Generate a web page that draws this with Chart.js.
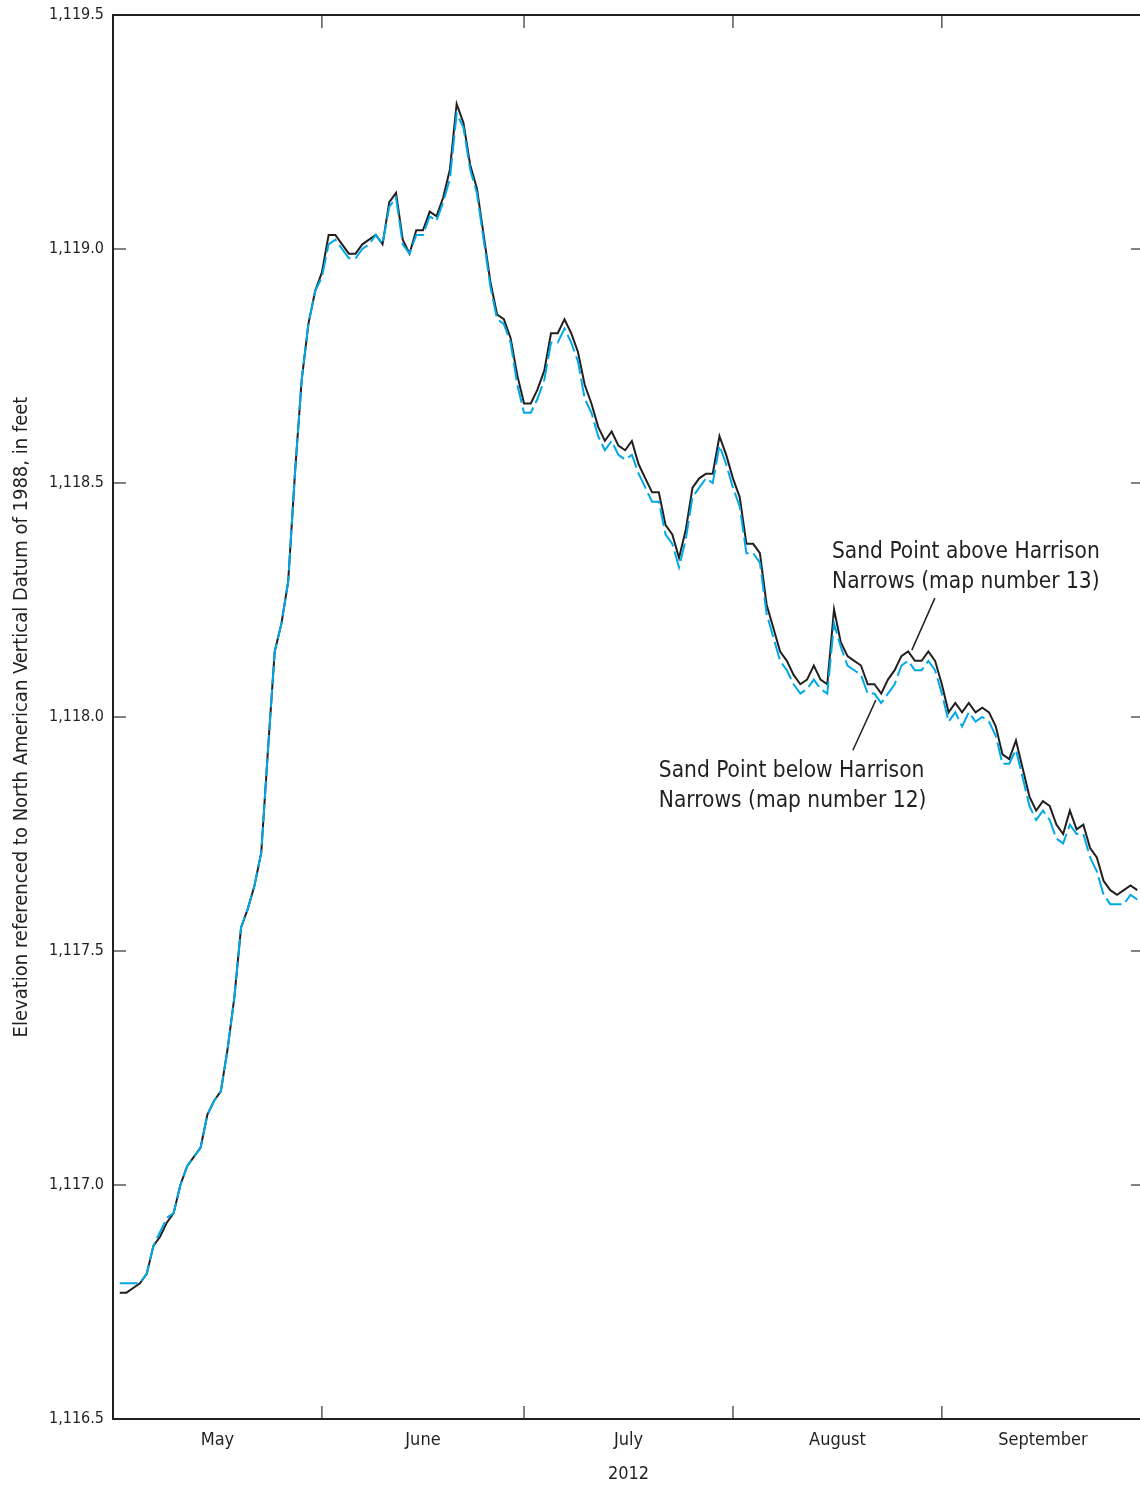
<!DOCTYPE html>
<html lang="en">
<head>
<meta charset="UTF-8">
<title>Lake elevation at Sand Point, May to September 2012</title>
<script src="https://cdn.jsdelivr.net/npm/chart.js"></script>
<style>
  html, body { margin: 0; padding: 0; background: #fff; }
  .janela { width: 1140px; height: 1487px; overflow: hidden; }
</style>
</head>
<body>
<div class="janela">
  <canvas id="elevacao" width="1150" height="1487"></canvas>
</div>
<script>
// daily elevations, ft (NAVD 88), from May 2 to September 30
var acima13 = [
  1116.77, 1116.77, 1116.78, 1116.79, 1116.81, 1116.87, 1116.89, 1116.92, 1116.94, 1117.00,
  1117.04, 1117.06, 1117.08, 1117.15, 1117.18, 1117.20, 1117.29, 1117.40, 1117.55, 1117.59,
  1117.64, 1117.71, 1117.93, 1118.14, 1118.20, 1118.29, 1118.52, 1118.72, 1118.84, 1118.91,
  1118.95, 1119.03, 1119.03, 1119.01, 1118.99, 1118.99, 1119.01, 1119.02, 1119.03, 1119.01,
  1119.10, 1119.12, 1119.02, 1118.99, 1119.04, 1119.04, 1119.08, 1119.07, 1119.11, 1119.17,
  1119.31, 1119.27, 1119.18, 1119.13, 1119.03, 1118.93, 1118.86, 1118.85, 1118.81, 1118.73,
  1118.67, 1118.67, 1118.70, 1118.74, 1118.82, 1118.82, 1118.85, 1118.82, 1118.78, 1118.71,
  1118.67, 1118.62, 1118.59, 1118.61, 1118.58, 1118.57, 1118.59, 1118.54, 1118.51, 1118.48,
  1118.48, 1118.41, 1118.39, 1118.34, 1118.40, 1118.49, 1118.51, 1118.52, 1118.52, 1118.60,
  1118.56, 1118.51, 1118.47, 1118.37, 1118.37, 1118.35, 1118.24, 1118.19, 1118.14, 1118.12,
  1118.09, 1118.07, 1118.08, 1118.11, 1118.08, 1118.07, 1118.23, 1118.16, 1118.13, 1118.12,
  1118.11, 1118.07, 1118.07, 1118.05, 1118.08, 1118.10, 1118.13, 1118.14, 1118.12, 1118.12,
  1118.14, 1118.12, 1118.07, 1118.01, 1118.03, 1118.01, 1118.03, 1118.01, 1118.02, 1118.01,
  1117.98, 1117.92, 1117.91, 1117.95, 1117.89, 1117.83, 1117.80, 1117.82, 1117.81, 1117.77,
  1117.75, 1117.80, 1117.76, 1117.77, 1117.72, 1117.70, 1117.65, 1117.63, 1117.62, 1117.63,
  1117.64, 1117.63
];
var abaixo12 = [
  1116.79, 1116.79, 1116.79, 1116.79, 1116.81, 1116.87, 1116.90, 1116.93, 1116.94, 1117.00,
  1117.04, 1117.06, 1117.08, 1117.15, 1117.18, 1117.20, 1117.29, 1117.40, 1117.55, 1117.59,
  1117.64, 1117.71, 1117.93, 1118.14, 1118.20, 1118.29, 1118.52, 1118.72, 1118.84, 1118.91,
  1118.94, 1119.01, 1119.02, 1119.00, 1118.98, 1118.98, 1119.00, 1119.01, 1119.03, 1119.01,
  1119.09, 1119.11, 1119.01, 1118.99, 1119.03, 1119.03, 1119.07, 1119.06, 1119.10, 1119.15,
  1119.29, 1119.26, 1119.17, 1119.12, 1119.02, 1118.92, 1118.85, 1118.84, 1118.80, 1118.71,
  1118.65, 1118.65, 1118.68, 1118.72, 1118.80, 1118.80, 1118.83, 1118.80, 1118.76, 1118.68,
  1118.65, 1118.60, 1118.57, 1118.59, 1118.56, 1118.55, 1118.56, 1118.52, 1118.49, 1118.46,
  1118.46, 1118.39, 1118.37, 1118.32, 1118.38, 1118.47, 1118.49, 1118.51, 1118.50, 1118.58,
  1118.54, 1118.49, 1118.45, 1118.35, 1118.35, 1118.33, 1118.22, 1118.17, 1118.12, 1118.10,
  1118.07, 1118.05, 1118.06, 1118.08, 1118.06, 1118.05, 1118.20, 1118.15, 1118.11, 1118.10,
  1118.09, 1118.05, 1118.05, 1118.03, 1118.05, 1118.07, 1118.11, 1118.12, 1118.10, 1118.10,
  1118.12, 1118.10, 1118.05, 1117.99, 1118.01, 1117.98, 1118.01, 1117.99, 1118.00, 1117.99,
  1117.96, 1117.90, 1117.90, 1117.93, 1117.87, 1117.81, 1117.78, 1117.80, 1117.78, 1117.74,
  1117.73, 1117.77, 1117.75, 1117.75, 1117.70, 1117.67, 1117.62, 1117.60, 1117.60, 1117.60,
  1117.62, 1117.61
];

// x axis in days counted from May 1
var primeiroDia = 1;
var inicioMeses = [0, 31, 61, 92, 123, 153];
var nomesMeses = ['May', 'June', 'July', 'August', 'September'];
var marcasY = [1116.5, 1117.0, 1117.5, 1118.0, 1118.5, 1119.0, 1119.5];

var rotulos = [
  { linhas: ['Sand Point above Harrison', 'Narrows (map number 13)'], dia: 106.7, valor: 1118.353,
    seta: [121.96, 1118.254, 118.55, 1118.143] },
  { linhas: ['Sand Point below Harrison', 'Narrows (map number 12)'], dia: 81.0, valor: 1117.885,
    seta: [113.2, 1118.036, 109.8, 1117.929] }
];

var fonte = "'Liberation Sans Narrow', 'DejaVu Sans Condensed', 'Arial Narrow', sans-serif";
var corTexto = '#231f20';

function pares(valores) {
  var lista = [];
  for (var i = 0; i < valores.length; i++) {
    lista.push({ x: primeiroDia + i, y: valores[i] });
  }
  return lista;
}

var meioMeses = [];
for (var m = 0; m < nomesMeses.length; m++) {
  meioMeses.push((inicioMeses[m] + inicioMeses[m + 1]) / 2);
}

// moldura com marcas voltadas para dentro
var moldura = {
  id: 'moldura',
  afterDraw: function (chart) {
    var ctx = chart.ctx;
    var a = chart.chartArea;
    var x = chart.scales.x, y = chart.scales.y;
    var tam = 13;
    ctx.save();
    ctx.strokeStyle = '#5a5a5a';
    ctx.lineWidth = 1.5;
    ctx.beginPath();
    marcasY.slice(1, -1).forEach(function (v) {
      var py = y.getPixelForValue(v);
      ctx.moveTo(a.left, py); ctx.lineTo(a.left + tam, py);
      ctx.moveTo(a.right - tam, py); ctx.lineTo(a.right, py);
    });
    inicioMeses.slice(1, -1).forEach(function (d) {
      var px = x.getPixelForValue(d);
      ctx.moveTo(px, a.bottom); ctx.lineTo(px, a.bottom - tam);
      ctx.moveTo(px, a.top); ctx.lineTo(px, a.top + tam);
    });
    ctx.stroke();
    ctx.strokeStyle = corTexto;
    ctx.lineWidth = 2;
    ctx.strokeRect(a.left, a.top, a.right - a.left, a.bottom - a.top);
    ctx.restore();
  }
};

var legendas = {
  id: 'legendas',
  afterDraw: function (chart) {
    var ctx = chart.ctx;
    var x = chart.scales.x, y = chart.scales.y;
    ctx.save();
    ctx.fillStyle = corTexto;
    ctx.strokeStyle = corTexto;
    ctx.lineWidth = 1.5;
    ctx.font = '22.5px ' + fonte;
    ctx.textAlign = 'left';
    ctx.textBaseline = 'middle';
    rotulos.forEach(function (r) {
      var px = x.getPixelForValue(r.dia);
      var py = y.getPixelForValue(r.valor);
      r.linhas.forEach(function (t, k) {
        ctx.fillText(t, px, py + k * 30);
      });
      ctx.beginPath();
      ctx.moveTo(x.getPixelForValue(r.seta[0]), y.getPixelForValue(r.seta[1]));
      ctx.lineTo(x.getPixelForValue(r.seta[2]), y.getPixelForValue(r.seta[3]));
      ctx.stroke();
    });
    ctx.restore();
  }
};

new Chart(document.getElementById('elevacao'), {
  type: 'line',
  data: {
    datasets: [
      {
        label: 'Sand Point below Harrison Narrows (map number 12)',
        data: pares(abaixo12),
        borderColor: '#00a9e6',
        borderWidth: 2,
        borderDash: [18, 5],
        pointRadius: 0,
        fill: false,
        tension: 0
      },
      {
        label: 'Sand Point above Harrison Narrows (map number 13)',
        data: pares(acima13),
        borderColor: '#231f20',
        borderWidth: 2,
        pointRadius: 0,
        fill: false,
        tension: 0
      }
    ]
  },
  options: {
    responsive: false,
    animation: false,
    events: [],
    layout: { padding: { top: 15, right: 6, bottom: 0, left: 0 } },
    plugins: {
      legend: { display: false },
      tooltip: { enabled: false }
    },
    scales: {
      x: {
        type: 'linear',
        min: inicioMeses[0],
        max: inicioMeses[inicioMeses.length - 1],
        grid: { display: false, drawTicks: false },
        border: { display: false },
        afterBuildTicks: function (escala) {
          escala.ticks = meioMeses.map(function (v) { return { value: v }; });
        },
        afterFit: function (escala) { escala.height = 68; },
        ticks: {
          autoSkip: false,
          maxRotation: 0,
          padding: 11,
          color: corTexto,
          font: { family: fonte, size: 18 },
          callback: function (v, i) { return nomesMeses[i]; }
        },
        title: {
          display: true,
          text: '2012',
          color: corTexto,
          font: { family: fonte, size: 18 },
          padding: { top: 0, bottom: 2 }
        }
      },
      y: {
        min: marcasY[0],
        max: marcasY[marcasY.length - 1],
        grid: { display: false, drawTicks: true, tickLength: 9 },
        border: { display: false },
        afterBuildTicks: function (escala) {
          escala.ticks = marcasY.map(function (v) { return { value: v }; });
        },
        afterFit: function (escala) { escala.width = 113; },
        ticks: {
          padding: 0,
          color: corTexto,
          font: { family: fonte, size: 16 },
          callback: function (v) {
            return v.toLocaleString('en-US', { minimumFractionDigits: 1, maximumFractionDigits: 1 });
          }
        },
        title: {
          display: true,
          text: 'Elevation referenced to North American Vertical Datum of 1988, in feet',
          color: corTexto,
          font: { family: fonte, size: 20 },
          padding: { top: 10, bottom: 0 }
        }
      }
    }
  },
  plugins: [moldura, legendas]
});
</script>
</body>
</html>
